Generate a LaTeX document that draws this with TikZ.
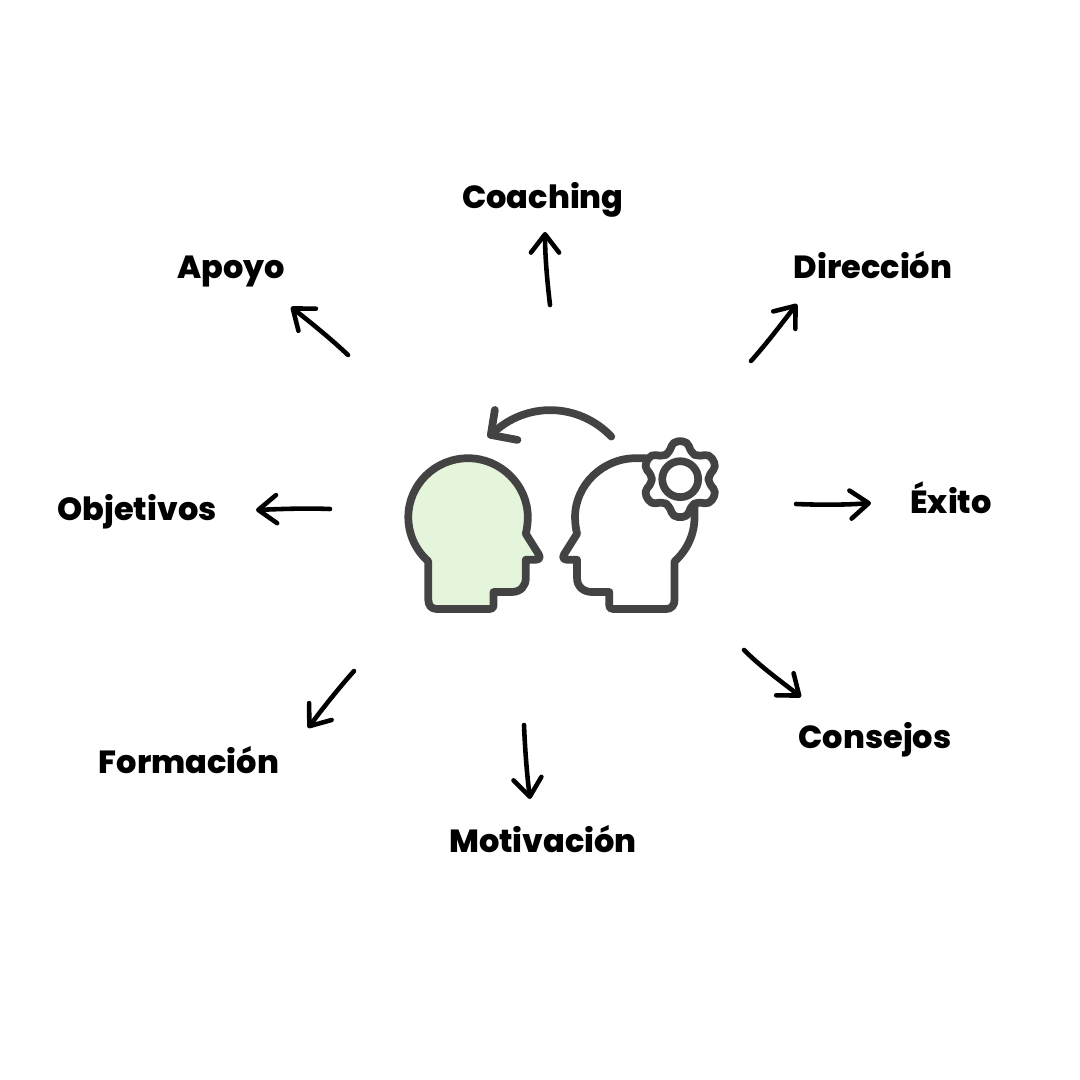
\documentclass[tikz,border=0pt]{standalone}
\usepackage{fontspec}
\setmainfont{Poppins}[BoldFont={Poppins ExtraBold}]
\usetikzlibrary{arrows.meta}
\definecolor{headgray}{HTML}{434343}
\definecolor{headgreen}{HTML}{E5F5DC}
\tikzset{
  x=0.01cm,y=-0.01cm,
  lbl/.style={font=\bfseries\fontsize{9.1pt}{11pt}\selectfont,anchor=base,inner sep=0pt,text=black},
  handarrow/.style={line width=1.3pt,line cap=round,line join=round,black,-{Straight Barb[length=5.2pt,width=8pt,round]}},
  headline/.style={line width=2.2pt,headgray,line cap=round,line join=round},
}
\begin{document}
\begin{tikzpicture}
\useasboundingbox (0,0) rectangle (1080,1080);
\fill[white] (0,0) rectangle (1080,1080);
% labels
\node[lbl] (coaching) at (543,209) {Coaching};
\node[lbl] (apoyo) at (231,279) {Apoyo};
\node[lbl] (direccion) at (873,279) {Dirección};
\node[lbl] (exito) at (951,514) {Éxito};
\node[lbl] (consejos) at (875,748) {Consejos};
\node[lbl] (motivacion) at (543,852) {Motivación};
\node[lbl] (formacion) at (189,773) {Formación};
\node[lbl] (objetivos) at (137,521) {Objetivos};
% arrow end points
\coordinate (a1) at (550,305); \coordinate (b1) at (545,232);
\coordinate (a2) at (348,355); \coordinate (b2) at (291,307);
\coordinate (a3) at (751,361); \coordinate (b3) at (797,304);
\coordinate (a4) at (796,504); \coordinate (b4) at (871,503);
\coordinate (a5) at (744,650); \coordinate (b5) at (801,697);
\coordinate (a6) at (524,725); \coordinate (b6) at (530,799);
\coordinate (a7) at (354,671); \coordinate (b7) at (308,728);
\coordinate (a8) at (330,509); \coordinate (b8) at (256,510);
\draw[handarrow] (a1) .. controls (547,280) and (545,255) .. (b1);
\draw[handarrow] (a2) .. controls (330,338) and (310,322) .. (b2);
\draw[handarrow] (a3) .. controls (768,342) and (782,323) .. (b3);
\draw[handarrow] (a4) .. controls (820,505) and (845,505) .. (b4);
\draw[handarrow] (a5) .. controls (762,668) and (782,682) .. (b5);
\draw[handarrow] (a6) .. controls (525,750) and (527,775) .. (b6);
\draw[handarrow] (a7) .. controls (338,689) and (323,708) .. (b7);
\draw[handarrow] (a8) .. controls (305,508) and (280,509) .. (b8);
% heads, zoom coordinates
\begin{scope}[shift={(390,390)},x=0.00333cm,y=-0.00333cm]
% left head
\draw[headline,fill=headgreen] (115,515) -- (115,630) .. controls (115,648) and (125,658) .. (140,658)
  -- (300,658) .. controls (308,658) and (311,654) .. (311,648) -- (311,607) -- (365,607)
  .. controls (392,607) and (408,590) .. (408,565) -- (408,510) -- (438,510)
  .. controls (450,510) and (452,502) .. (447,494) -- (408,432)
  .. controls (412,415) and (414,398) .. (414,382)
  .. controls (414,285) and (332,205) .. (235,205)
  .. controls (135,205) and (55,285) .. (55,382)
  .. controls (55,435) and (78,482) .. (115,515) -- cycle;
% right head
\draw[headline] (770,205) -- (738,205)
  .. controls (640,205) and (556,285) .. (556,382)
  .. controls (556,398) and (558,415) .. (562,432)
  -- (523,494) .. controls (518,502) and (520,510) .. (532,510)
  -- (562,510) -- (562,565) .. controls (562,590) and (580,607) .. (608,607)
  -- (659,607) -- (659,648) .. controls (659,654) and (662,658) .. (670,658)
  -- (830,658) .. controls (845,658) and (855,648) .. (855,630) -- (855,515)
  .. controls (892,482) and (915,435) .. (915,382) -- (915,350);
% gear
\begin{scope}[shift={(872,268)}]
\draw[headline,fill=white,rounded corners=1.5pt]
  (68:86) -- (79:116) -- (101:116) -- (112:86) --
  (128:86) -- (139:116) -- (161:116) -- (172:86) --
  (188:86) -- (199:116) -- (221:116) -- (232:86) --
  (248:86) -- (259:116) -- (281:116) -- (292:86) --
  (308:86) -- (319:116) -- (341:116) -- (352:86) --
  (8:86) -- (19:116) -- (41:116) -- (52:86) -- cycle;
\draw[headline] (0,0) circle[radius=54];
\end{scope}
% curved arrow
\coordinate (c1) at (665,140); \coordinate (c2) at (303,135);
\coordinate (c3) at (315,60); \coordinate (c4) at (383,150);
\draw[headline] (c1) .. controls (570,40) and (410,30) .. (c2);
\draw[headline] (c3) -- (c2) -- (c4);
\end{scope}
\end{tikzpicture}
\end{document}
